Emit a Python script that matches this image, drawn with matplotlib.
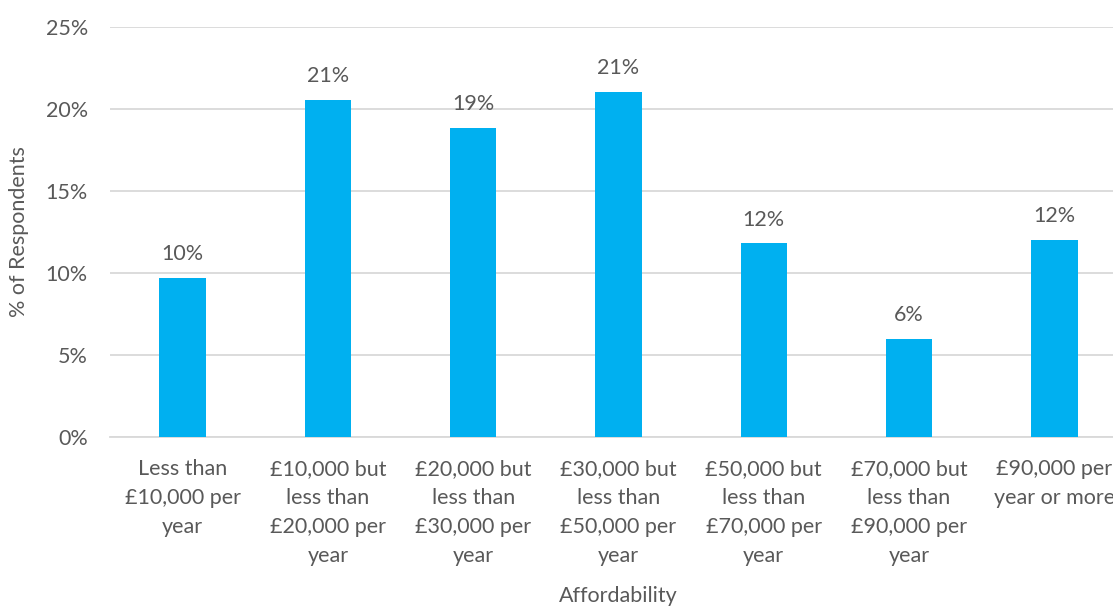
import matplotlib.pyplot as plt
from matplotlib.ticker import FuncFormatter

plt.rcParams['font.family'] = ['Lato', 'DejaVu Sans']

categories = [
    "Less than\n£10,000 per\nyear",
    "£10,000 but\nless than\n£20,000 per\nyear",
    "£20,000 but\nless than\n£30,000 per\nyear",
    "£30,000 but\nless than\n£50,000 per\nyear",
    "£50,000 but\nless than\n£70,000 per\nyear",
    "£70,000 but\nless than\n£90,000 per\nyear",
    "£90,000 per\nyear or more",
]
values = [9.7, 20.55, 18.85, 21.05, 11.8, 6.0, 12.0]

text_col = "#595959"
bar_col = "#00B0F0"
fs = 15.5

fig = plt.figure(figsize=(11.13, 6.06), dpi=100)
W, H = 1113, 606
ax = fig.add_axes([110 / W, (H - 437) / H, (1127 - 110) / W, (437 - 27) / H])

x = range(len(categories))
bars = ax.bar(x, values, width=0.32, color=bar_col, zorder=3)

for rect, v in zip(bars, values):
    ax.annotate(f"{round(v):.0f}%", (rect.get_x() + rect.get_width() / 2, v),
                xytext=(0, 10), textcoords="offset points",
                ha="center", va="bottom", fontsize=fs, color=text_col)

ax.set_xlim(-0.5, 6.5)
ax.set_ylim(0, 25)
ax.set_yticks([0, 5, 10, 15, 20, 25])
ax.yaxis.set_major_formatter(FuncFormatter(lambda v, p: f"{v:.0f}%"))
ax.set_xticks(list(x))
ax.set_xticklabels(categories, fontsize=fs, color=text_col)
for lbl in ax.get_xticklabels():
    lbl.set_linespacing(1.55)
ax.tick_params(axis="y", labelsize=fs, labelcolor=text_col, length=0, pad=16)
ax.tick_params(axis="x", length=0, pad=16)

ax.grid(axis="y", color="#D9D9D9", linewidth=1.3, zorder=0)
for s in ["top", "right", "left"]:
    ax.spines[s].set_visible(False)
ax.spines["bottom"].set_color("#D9D9D9")
ax.spines["bottom"].set_linewidth(1.3)

ax.set_ylabel("% of Respondents", fontsize=fs, color=text_col, labelpad=12)
ax.set_xlabel("Affordability", fontsize=fs, color=text_col, labelpad=15)

fig.savefig("out.png", dpi=100)
